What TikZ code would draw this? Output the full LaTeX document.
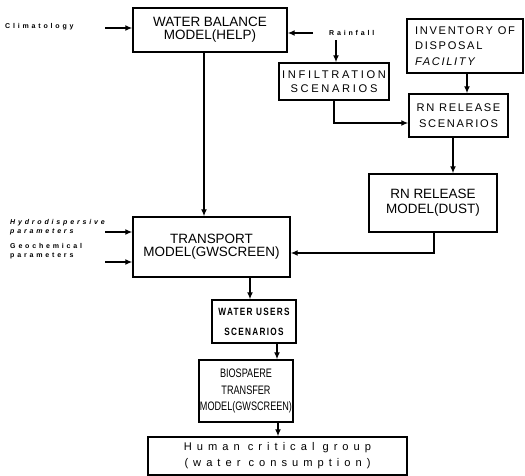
\documentclass[tikz,border=0pt]{standalone}
\usepackage{fontspec}
\setmainfont{Liberation Sans}
\newfontfamily\wideface[LetterSpace=15]{Liberation Sans}
\newfontfamily\widerface[LetterSpace=24]{Liberation Sans}
\newfontfamily\widestface[LetterSpace=45]{Liberation Sans}
\newfontfamily\narrowface[FakeStretch=0.74]{Liberation Sans}
\newfontfamily\usersface[LetterSpace=12,FakeStretch=0.78]{Liberation Sans}
\newfontfamily\labelface[LetterSpace=40]{Liberation Sans}
\usetikzlibrary{arrows.meta}
\tikzset{
  model/.style={draw, line width=1.2pt, align=center, inner sep=0pt, font=\fontsize{11.5}{13}\selectfont},
  scen/.style={draw, line width=1.2pt, align=center, inner sep=0pt, font=\wideface\fontsize{9.5}{12.5}\selectfont},
  inlabel/.style={align=left, anchor=west, inner sep=0pt, font=\labelface\bfseries\fontsize{6}{8}\selectfont},
  flow/.style={line width=1.1pt, -{Latex[length=6pt,width=5pt]}},
}
\begin{document}
\begin{tikzpicture}[x=0.03cm, y=-0.03cm]
  \useasboundingbox (0,0) rectangle (525,476);
  % boxes
  \node[model, font=\fontsize{11.5}{11}\selectfont, minimum width=154*0.03cm, minimum height=44*0.03cm] (wb) at (210,30) {WATER BALANCE\\MODEL(HELP)};
  \node[scen, font=\widerface\fontsize{9.5}{12.5}\selectfont, minimum width=110*0.03cm, minimum height=37*0.03cm] (infil) at (334,81.5) {INFILTRATION\\SCENARIOS};
  \node[scen, font=\wideface\fontsize{9.5}{13.5}\selectfont, align=left, minimum width=116*0.03cm, minimum height=54*0.03cm] (inv) at (465,46) {INVENTORY OF\\DISPOSAL\\\itshape FACILITY};
  \node[scen, font=\wideface\fontsize{9.5}{14}\selectfont, minimum width=99*0.03cm, minimum height=43*0.03cm] (rnscen) at (458.5,115.5) {RN RELEASE\\SCENARIOS};
  \node[model, minimum width=128*0.03cm, minimum height=58*0.03cm] (rnmod) at (433,203) {RN RELEASE\\MODEL(DUST)};
  \node[model, font=\fontsize{11.5}{11}\selectfont, minimum width=157*0.03cm, minimum height=60*0.03cm] (trans) at (211.5,247) {TRANSPORT\\MODEL(GWSCREEN)};
  \node[scen, font=\usersface\bfseries\fontsize{9}{17}\selectfont, minimum width=84*0.03cm, minimum height=43*0.03cm] (users) at (254,321.5) {WATER USERS\\SCENARIOS};
  \node[model, font=\narrowface\fontsize{10.5}{14}\selectfont, minimum width=94*0.03cm, minimum height=62*0.03cm] (bio) at (246,391) {BIOSPAERE\\TRANSFER\\MODEL(GWSCREEN)};
  \node[scen, font=\widestface\fontsize{9.5}{13.5}\selectfont, minimum width=259*0.03cm, minimum height=38*0.03cm] (human) at (277.5,456) {Human critical group\\(water consumption)};
  % input labels
  \node[inlabel] (clim) at (5,27) {Climatology};
  \node[inlabel] (rain) at (329,33) {Rainfall};
  \node[inlabel, font=\labelface\bfseries\itshape\fontsize{6}{8}\selectfont] (hydro) at (10,227) {Hydrodispersive\\parameters};
  \node[inlabel] (geo) at (10,251) {Geochemical\\parameters};
  \coordinate (climend) at (105,28);
  \coordinate (rainend) at (313,33);
  \coordinate (raintop) at (336,40);
  \coordinate (hydroend) at (105,232);
  \coordinate (geoend) at (105,262);
  % connectors
  \draw[flow] (climend) -- (climend -| wb.west);
  \draw[flow] (rainend) -- (rainend -| wb.east);
  \draw[flow] (raintop) -- (raintop |- infil.north);
  \draw[flow] (wb.south -| 204,0) -- (trans.north -| 204,0);
  \draw[flow] (inv.south -| 467,0) -- (rnscen.north -| 467,0);
  \draw[flow] (infil.south) |- (rnscen.west |- 0,123);
  \draw[flow] (rnscen.south -| 453,0) -- (rnmod.north -| 453,0);
  \draw[flow] (rnmod.south -| 434,0) |- (trans.east |- 0,253);
  \draw[flow] (hydroend) -- (hydroend -| trans.west);
  \draw[flow] (geoend) -- (geoend -| trans.west);
  \draw[flow] (trans.south -| 250,0) -- (users.north -| 250,0);
  \draw[flow] (users.south -| 277,0) -- (bio.north -| 277,0);
  \draw[flow] (bio.south -| 278,0) -- (human.north -| 278,0);
\end{tikzpicture}
\end{document}
